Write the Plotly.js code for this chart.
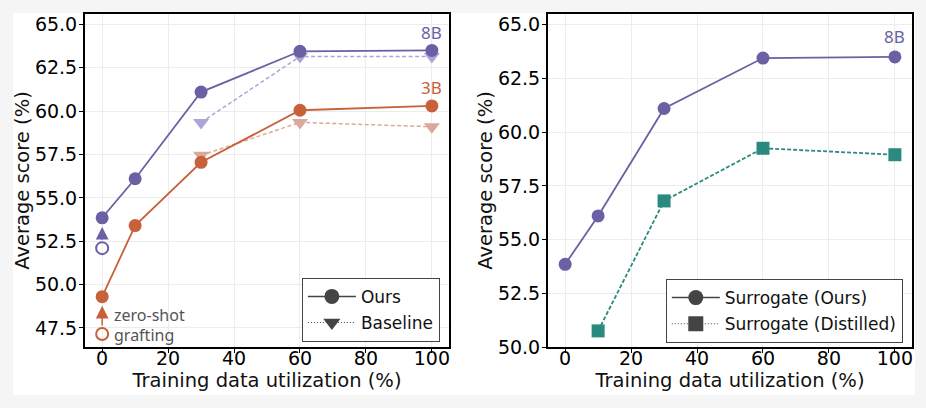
<!DOCTYPE html>
<html>
<head>
<meta charset="utf-8">
<script src="https://cdn.plot.ly/plotly-3.0.1.min.js"></script>
<style>
  html, body { margin: 0; padding: 0; background: #f5f5f5; }
  #plot { width: 926px; height: 408px; }
</style>
</head>
<body>
<div id="plot"></div>
<script>
// values
const dataUse = [0, 10, 30, 60, 100];
const ours8B = [53.85, 56.1, 61.1, 63.45, 63.5];
const ours3B = [49.3, 53.4, 57.05, 60.05, 60.3];
const baselineUse = [30, 60, 100];
const baseline8B = [59.35, 63.15, 63.15];
const baseline3B = [57.45, 59.35, 59.1];
const distilledUse = [10, 30, 60, 100];
const distilled8B = [50.75, 56.8, 59.25, 58.95];
const zeroShot8B = 52.1;
const zeroShot3B = 47.15;
const xTicks = [0, 20, 40, 60, 80, 100];

const purple = "#6b60a3";
const orange = "#c8603c";
const teal = "#2a8a80";
const lightPurple = "#aca6d8";
const lightOrange = "#dba99a";
const legendGrey = "#444444";
const font = "DejaVu Sans, sans-serif";
const labelFont = "Noto Sans, sans-serif";

function dummy(name, symbol, dash, lw, legend) {
    return {
        x: [null], y: [null], name: name, legend: legend, legendgroup: name,
        mode: "lines+markers",
        line: { color: legendGrey, width: lw, dash: dash },
        marker: { symbol: symbol, size: 15, color: legendGrey },
        hoverinfo: "skip"
    };
}

const data = [
    // left panel
    {
        x: baselineUse, y: baseline8B, xaxis: "x", yaxis: "y",
        mode: "lines+markers", showlegend: false,
        line: { color: lightPurple, width: 1.5, dash: "4px,2.5px" },
        marker: { symbol: "triangle-down", size: 14, color: lightPurple }
    },
    {
        x: baselineUse, y: baseline3B, xaxis: "x", yaxis: "y",
        mode: "lines+markers", showlegend: false,
        line: { color: lightOrange, width: 1.5, dash: "4px,2.5px" },
        marker: { symbol: "triangle-down", size: 14, color: lightOrange }
    },
    {
        x: dataUse, y: ours8B, xaxis: "x", yaxis: "y",
        mode: "lines+markers", showlegend: false,
        line: { color: purple, width: 1.8 },
        marker: { symbol: "circle", size: 13, color: purple }
    },
    {
        x: dataUse, y: ours3B, xaxis: "x", yaxis: "y",
        mode: "lines+markers", showlegend: false,
        line: { color: orange, width: 1.8 },
        marker: { symbol: "circle", size: 13, color: orange }
    },
    {
        x: [0, 0], y: [zeroShot8B, zeroShot3B], xaxis: "x", yaxis: "y",
        mode: "markers", showlegend: false,
        marker: { symbol: "circle-open", size: 12, color: [purple, orange], line: { width: 2 } }
    },
    dummy("Ours", "circle", "solid", 1.5, "legend"),
    dummy("Baseline", "triangle-down", "1px,2px", 1, "legend"),
    // right panel
    {
        x: dataUse, y: ours8B, xaxis: "x2", yaxis: "y2",
        mode: "lines+markers", showlegend: false,
        line: { color: purple, width: 1.8 },
        marker: { symbol: "circle", size: 13, color: purple }
    },
    {
        x: distilledUse, y: distilled8B, xaxis: "x2", yaxis: "y2",
        mode: "lines+markers", showlegend: false,
        line: { color: teal, width: 1.8, dash: "4px,2px" },
        marker: { symbol: "square", size: 13, color: teal }
    },
    dummy("Surrogate (Ours)", "circle", "solid", 1.5, "legend2"),
    dummy("Surrogate (Distilled)", "square", "1px,2px", 1, "legend2")
];

const axisStyle = {
    showline: true, mirror: true, linecolor: "#000", linewidth: 2,
    ticks: "outside", ticklen: 4, tickcolor: "#000",
    showgrid: true, gridcolor: "#ececec", gridwidth: 1,
    zeroline: false,
    tickfont: { family: font, size: 19, color: "#000" }
};

function xAxis(domain, anchor) {
    return Object.assign({}, axisStyle, {
        domain: domain, anchor: anchor, range: [-5.2, 105.2],
        tickvals: xTicks, ticklabelstandoff: -11,
        title: { text: "Training data utilization (%)", font: { family: font, size: 19.5, color: "#111" }, standoff: 2 }
    });
}

function yAxis(domain, anchor, range, ticks) {
    return Object.assign({}, axisStyle, {
        domain: domain, anchor: anchor, range: range,
        tickvals: ticks, tickformat: ".1f", ticklabelstandoff: -2,
        title: { text: "Average score (%)", font: { family: font, size: 19.5, color: "#111" }, standoff: 0 }
    });
}

const legendStyle = {
    xanchor: "left", yanchor: "top",
    bgcolor: "#ffffff", bordercolor: legendGrey, borderwidth: 1,
    font: { family: font, size: 17, color: "#111" },
    itemwidth: 48, tracegroupgap: 1
};

const annFont = { family: labelFont, size: 17 };
const noteFont = { family: labelFont, size: 16, color: "#555" };

const layout = {
    width: 926, height: 408,
    margin: { l: 0, r: 0, t: 0, b: 0 },
    paper_bgcolor: "#f5f5f5",
    plot_bgcolor: "#ffffff",
    xaxis: xAxis([0.0918, 0.4849], "y"),
    yaxis: yAxis([0.1495, 0.9657], "x", [46.4, 65.6], [47.5, 50, 52.5, 55, 57.5, 60, 62.5, 65]),
    xaxis2: xAxis([0.5918, 0.9849], "y2"),
    yaxis2: yAxis([0.1495, 0.9657], "x2", [50, 65.5], [50, 52.5, 55, 57.5, 60, 62.5, 65]),
    legend: Object.assign({}, legendStyle, { x: 0.326, y: 0.319 }),
    legend2: Object.assign({}, legendStyle, { x: 0.719, y: 0.316 }),
    shapes: [
        {
            type: "rect", xref: "paper", yref: "paper", layer: "below",
            x0: 13 / 926, x1: 915 / 926, y0: 13 / 408, y1: 395 / 408,
            fillcolor: "#ffffff", line: { width: 0 }
        }
    ],
    annotations: [
        { x: 100, y: 64.55, xref: "x", yref: "y", text: "8B", showarrow: false, font: Object.assign({ color: purple }, annFont) },
        { x: 100, y: 61.38, xref: "x", yref: "y", text: "3B", showarrow: false, font: Object.assign({ color: orange }, annFont) },
        { x: 100, y: 64.45, xref: "x2", yref: "y2", text: "8B", showarrow: false, font: Object.assign({ color: purple }, annFont) },
        { x: 2.9, y: 48.25, xref: "x", yref: "y", text: "zero-shot", showarrow: false, xanchor: "left", font: noteFont },
        { x: 2.9, y: 47.1, xref: "x", yref: "y", text: "grafting", showarrow: false, xanchor: "left", font: noteFont },
        {
            x: 0, y: ours8B[0], ax: 0, ay: zeroShot8B, xref: "x", yref: "y", axref: "x", ayref: "y",
            showarrow: true, arrowhead: 2, arrowsize: 1.7, arrowwidth: 1.5, arrowcolor: purple,
            standoff: 9, startstandoff: 7, text: ""
        },
        {
            x: 0, y: ours3B[0], ax: 0, ay: zeroShot3B, xref: "x", yref: "y", axref: "x", ayref: "y",
            showarrow: true, arrowhead: 2, arrowsize: 1.7, arrowwidth: 1.5, arrowcolor: orange,
            standoff: 9, startstandoff: 7, text: ""
        }
    ]
};

Plotly.newPlot("plot", data, layout, { displayModeBar: false, staticPlot: true });
</script>
</body>
</html>
